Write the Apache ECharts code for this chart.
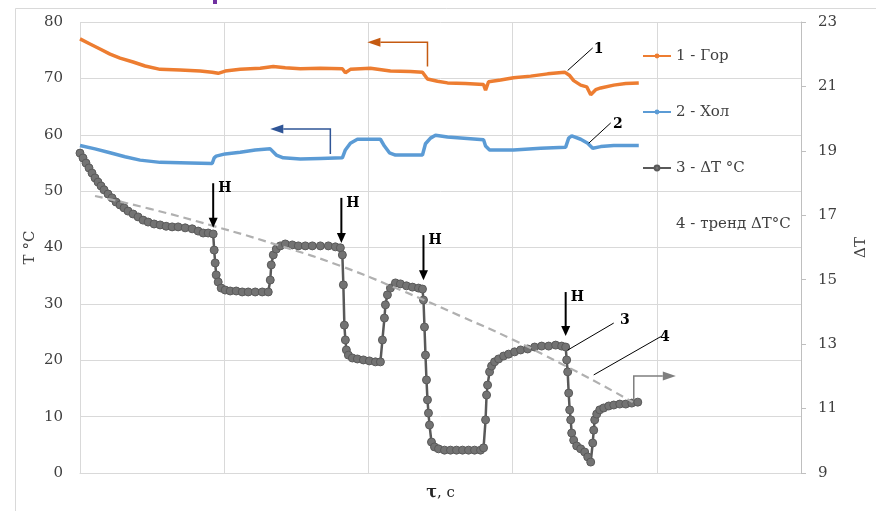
<!DOCTYPE html>
<html>
<head>
<meta charset="utf-8">
<script src="https://cdn.jsdelivr.net/npm/echarts@6/dist/echarts.min.js"></script>
<style>
  html, body { margin: 0; padding: 0; background: #ffffff; }
  #chart { width: 876px; height: 511px; }
</style>
</head>
<body>
<div id="chart"></div>
<script>
// Time axis (no tick labels): 0..720, five equal divisions
const xTicks = { min: 0, max: 720, interval: 144 };

// 1 - Гор (hot side), °C, left axis
const hotX = [0, 10, 20, 30, 40, 53, 65, 80, 100, 120, 132, 138, 145, 160, 180, 193, 205, 220, 240, 262, 265, 270, 290, 310, 330, 342, 347, 357, 367, 385, 403, 405, 408, 420, 433, 450, 467, 484, 489, 493, 500, 506, 510, 515, 520, 533, 545, 558];
const hotT = [77.0, 76.1, 75.2, 74.3, 73.6, 72.9, 72.2, 71.6, 71.5, 71.3, 71.1, 70.9, 71.3, 71.6, 71.8, 72.1, 71.9, 71.7, 71.8, 71.7, 71.0, 71.6, 71.8, 71.3, 71.2, 71.1, 69.9, 69.5, 69.2, 69.1, 68.9, 67.9, 69.4, 69.7, 70.1, 70.4, 70.8, 71.1, 70.5, 69.6, 68.8, 68.5, 67.1, 68.0, 68.3, 68.8, 69.1, 69.2];

// 2 - Хол (cold side), °C, left axis
const coldX = [0, 15, 30, 45, 60, 80, 110, 132, 134, 136, 145, 160, 175, 190, 196, 203, 220, 240, 262, 265, 270, 277, 300, 304, 309, 315, 342, 345, 350, 355, 367, 403, 405, 409, 433, 460, 485, 488, 491, 500, 507, 512, 520, 533, 558];
const coldT = [58.1, 57.5, 56.8, 56.1, 55.5, 55.1, 55.0, 54.9, 55.9, 56.2, 56.6, 56.9, 57.3, 57.5, 56.4, 55.9, 55.7, 55.8, 55.9, 57.3, 58.5, 59.2, 59.2, 58.0, 56.8, 56.4, 56.4, 58.4, 59.4, 59.9, 59.6, 59.1, 58.0, 57.3, 57.3, 57.6, 57.8, 59.4, 59.8, 59.2, 58.5, 57.6, 57.9, 58.1, 58.1];

// 3 - ΔT °C, right axis
const dtX = [0, 3, 6, 9, 12, 15, 18, 21, 24, 28, 32, 36, 40, 44, 48, 53, 58, 63, 68, 74, 80, 86, 92, 98, 105, 112, 118, 123, 128, 133,
  134, 135, 136, 138, 141, 145, 150, 156, 162, 168, 175, 182, 188,
  190, 191, 193, 196, 200, 205, 212, 218, 225, 232, 240, 248, 255, 260,
  262, 263, 264, 265, 266, 268, 272, 277, 283, 289, 295, 300,
  302, 304, 305, 307, 310, 315, 320, 326, 332, 338, 342,
  343, 344, 345, 346, 347, 348, 349, 351, 354, 358, 364, 370, 376, 382, 388, 394, 400, 403,
  405, 406, 407, 409, 411, 414, 418, 423, 428, 434, 440, 447, 454, 461, 468, 475, 481, 485,
  486, 487, 488, 489, 490, 491, 493, 496, 500, 504, 507, 510,
  512, 513, 514, 516, 519, 523, 528, 533, 539, 545, 551, 557];
const dtV = [18.93, 18.78, 18.62, 18.47, 18.31, 18.16, 18.03, 17.91, 17.79, 17.66, 17.54, 17.41, 17.32, 17.23, 17.13, 17.04, 16.95, 16.85, 16.79, 16.73, 16.70, 16.66, 16.64, 16.64, 16.61, 16.58, 16.51, 16.45, 16.45, 16.42,
  15.92, 15.52, 15.15, 14.93, 14.74, 14.68, 14.65, 14.65, 14.62, 14.62, 14.62, 14.62, 14.62,
  14.99, 15.46, 15.77, 15.95, 16.05, 16.11, 16.08, 16.05, 16.05, 16.05, 16.05, 16.05, 16.02, 15.99,
  15.77, 14.84, 13.59, 13.13, 12.82, 12.66, 12.57, 12.54, 12.51, 12.48, 12.45, 12.45,
  13.13, 13.81, 14.22, 14.53, 14.74, 14.90, 14.87, 14.81, 14.77, 14.74, 14.71,
  14.37, 13.53, 12.66, 11.89, 11.27, 10.86, 10.49, 9.96, 9.81, 9.75, 9.71, 9.71, 9.71, 9.71, 9.71, 9.71, 9.71, 9.78,
  10.65, 11.42, 11.73, 12.14, 12.32, 12.45, 12.54, 12.63, 12.69, 12.76, 12.82, 12.85, 12.91, 12.94, 12.94, 12.97, 12.94, 12.91,
  12.51, 12.14, 11.48, 10.96, 10.65, 10.24, 10.02, 9.84, 9.75, 9.65, 9.50, 9.34,
  9.93, 10.33, 10.65, 10.83, 10.96, 11.02, 11.08, 11.11, 11.14, 11.14, 11.17, 11.20];

// 4 - тренд ΔT°C, right axis
const trendX = [15, 70, 133, 200, 260, 320, 380, 433, 480, 520, 552];
const trendV = [17.60, 17.20, 16.67, 16.05, 15.43, 14.68, 13.87, 13.13, 12.40, 11.75, 11.20];

// Axis scales
const leftTicks = { min: 0, max: 80, interval: 10 };
const rightTicks = { min: 9, max: 23, interval: 2 };

const seriesNames = ['1 - Гор', '2 - Хол', '3 - ΔT °C', '4 - тренд ΔT°C'];

const zip = (xs, ys) => xs.map((x, i) => [x, ys[i]]);

const SERIF = '"DejaVu Serif", "Liberation Serif", serif';
const TXT = '#404040';

const chart = echarts.init(document.getElementById('chart'), null, { renderer: 'canvas' });

chart.setOption({
  animation: false,
  backgroundColor: '#ffffff',
  textStyle: { fontFamily: SERIF },
  grid: { left: 80, right: 75, top: 22, bottom: 38, containLabel: false, outerBoundsMode: 'none' },
  legend: {
    orient: 'vertical',
    left: 637,
    top: 43,
    itemWidth: 28,
    itemHeight: 6,
    itemGap: 40,
    textStyle: { fontFamily: SERIF, fontSize: 15, color: TXT, lineHeight: 16 },
    data: [
      { name: seriesNames[0], lineStyle: { width: 2 } },
      { name: seriesNames[1], lineStyle: { width: 2 } },
      { name: seriesNames[2], lineStyle: { width: 2 } },
      { name: seriesNames[3], lineStyle: { opacity: 0 }, itemStyle: { opacity: 0 } }
    ]
  },
  xAxis: {
    type: 'value',
    min: xTicks.min, max: xTicks.max, interval: xTicks.interval,
    name: '{b|τ}, с',
    nameLocation: 'middle',
    nameGap: 12,
    nameMoveOverlap: false,
    nameTextStyle: {
      fontFamily: SERIF, fontSize: 15, color: '#262626',
      rich: { b: { fontFamily: SERIF, fontSize: 16, fontWeight: 'bold', color: '#262626' } }
    },
    axisLabel: { show: false },
    axisTick: { show: false },
    axisLine: { show: true, lineStyle: { color: '#d9d9d9', width: 1 } },
    splitLine: { show: true, lineStyle: { color: '#d9d9d9', width: 1 } }
  },
  yAxis: [
    {
      type: 'value',
      position: 'left',
      min: leftTicks.min, max: leftTicks.max, interval: leftTicks.interval,
      name: 'T °C',
      nameLocation: 'middle',
      nameGap: 42,
      nameRotate: 90,
      nameMoveOverlap: false,
      nameTextStyle: { fontFamily: SERIF, fontSize: 15, color: TXT },
      axisLabel: { fontFamily: SERIF, fontSize: 15, color: TXT, margin: 17 },
      axisTick: { show: false },
      axisLine: { show: false },
      splitLine: { show: true, lineStyle: { color: '#d9d9d9', width: 1 } }
    },
    {
      type: 'value',
      position: 'right',
      min: rightTicks.min, max: rightTicks.max, interval: rightTicks.interval,
      name: 'ΔT',
      nameLocation: 'middle',
      nameGap: 53,
      nameRotate: 90,
      nameMoveOverlap: false,
      nameTextStyle: { fontFamily: SERIF, fontSize: 15, color: TXT },
      axisLabel: { fontFamily: SERIF, fontSize: 15, color: TXT, margin: 17 },
      axisTick: { show: true, length: 5, lineStyle: { color: '#bfbfbf' } },
      axisLine: { show: true, lineStyle: { color: '#bfbfbf', width: 1 } },
      splitLine: { show: false }
    }
  ],
  series: [
    {
      name: seriesNames[0], type: 'line', yAxisIndex: 0,
      data: zip(hotX, hotT),
      symbol: 'circle', symbolSize: 5, showSymbol: false,
      color: '#ed7d31',
      lineStyle: { color: '#ed7d31', width: 3.5 }
    },
    {
      name: seriesNames[1], type: 'line', yAxisIndex: 0,
      data: zip(coldX, coldT),
      symbol: 'circle', symbolSize: 5, showSymbol: false,
      color: '#5b9bd5',
      lineStyle: { color: '#5b9bd5', width: 3.5 }
    },
    {
      name: seriesNames[2], type: 'line', yAxisIndex: 1,
      data: zip(dtX, dtV),
      symbol: 'circle', symbolSize: 8, showSymbol: true,
      color: '#737373',
      itemStyle: { color: '#737373', borderColor: '#5a5a5a', borderWidth: 1 },
      lineStyle: { color: '#595959', width: 2.5 },
      z: 3
    },
    {
      name: seriesNames[3], type: 'line', yAxisIndex: 1,
      data: zip(trendX, trendV),
      smooth: true, showSymbol: false, symbol: 'none',
      color: '#b0b0b0',
      lineStyle: { color: '#b0b0b0', width: 2.2, type: [8, 5] },
      z: 4
    }
  ]
});

// ---- Annotations (positions given in time / left-axis units) ----
const P = (x, v) => chart.convertToPixel({ xAxisIndex: 0, yAxisIndex: 0 }, [x, v]);

// Heating switch-on markers "Н": x, arrow tip value, arrow top value
const heatMarks = [
  { x: 133, tip: 43.5, top: 51.4 },
  { x: 261, tip: 40.8, top: 48.8 },
  { x: 343, tip: 34.2, top: 42.2 },
  { x: 485, tip: 24.3, top: 32.1 }
];

// Curve number callouts: leader line start, leader line end, label position
const callouts = [
  { text: '1', a: [487, 71.4], b: [512, 75.4], t: [518, 75.2] },
  { text: '2', a: [508, 58.5], b: [530, 62.1], t: [537, 61.9] },
  { text: '3', a: [487, 21.8], b: [533, 26.6], t: [544, 27.0] },
  { text: '4', a: [513, 17.4], b: [580, 24.2], t: [584, 24.1] }
];

// Axis pointer arrows: polyline path + arrowhead tip, colour
const axisArrows = [
  { pts: [[347, 72.1], [347, 76.4], [300, 76.4]], tip: [287, 76.4], color: '#c55a11' },
  { pts: [[250, 56.6], [250, 61.0], [203, 61.0]], tip: [190, 61.0], color: '#2f5597' },
  { pts: [[553, 12.9], [553, 17.2], [582, 17.2]], tip: [595, 17.2], color: '#7f7f7f' }
];

const g = [];

// outer frame of the chart area
g.push({ type: 'rect', shape: { x: 15.5, y: 8.5, width: 900, height: 600 },
  style: { fill: 'none', stroke: '#d9d9d9', lineWidth: 1 }, silent: true, z: 0 });
g.push({ type: 'rect', shape: { x: 213, y: 0, width: 4, height: 4 },
  style: { fill: '#7030a0' }, silent: true });

heatMarks.forEach(m => {
  const tip = P(m.x, m.tip), top = P(m.x, m.top);
  g.push({ type: 'line', shape: { x1: tip[0], y1: top[1], x2: tip[0], y2: tip[1] - 8 },
    style: { stroke: '#000', lineWidth: 2 }, z: 10 });
  g.push({ type: 'polygon', shape: { points: [[tip[0] - 4.5, tip[1] - 10], [tip[0] + 4.5, tip[1] - 10], [tip[0], tip[1]]] },
    style: { fill: '#000' }, z: 10 });
  g.push({ type: 'text', x: tip[0] + 5, y: top[1] + 5,
    style: { text: 'Н', fontFamily: SERIF, fontSize: 14, fontWeight: 'bold', fill: '#000',
      textAlign: 'left', textVerticalAlign: 'middle' }, z: 10 });
});

callouts.forEach(c => {
  const a = P(c.a[0], c.a[1]), b = P(c.b[0], c.b[1]), t = P(c.t[0], c.t[1]);
  g.push({ type: 'line', shape: { x1: a[0], y1: a[1], x2: b[0], y2: b[1] },
    style: { stroke: '#000', lineWidth: 1 }, z: 10 });
  g.push({ type: 'text', x: t[0], y: t[1],
    style: { text: c.text, fontFamily: SERIF, fontSize: 14, fontWeight: 'bold', fill: '#000',
      textAlign: 'center', textVerticalAlign: 'middle' }, z: 10 });
});

axisArrows.forEach(ar => {
  const pts = ar.pts.map(p => P(p[0], p[1]));
  const tip = P(ar.tip[0], ar.tip[1]);
  const last = pts[pts.length - 1];
  g.push({ type: 'polyline', shape: { points: pts },
    style: { stroke: ar.color, lineWidth: 1.5, fill: 'none' }, z: 10 });
  g.push({ type: 'polygon', shape: { points: [[last[0], last[1] - 4.5], [last[0], last[1] + 4.5], tip] },
    style: { fill: ar.color }, z: 10 });
});

chart.setOption({ graphic: { elements: g } });
</script>
</body>
</html>
